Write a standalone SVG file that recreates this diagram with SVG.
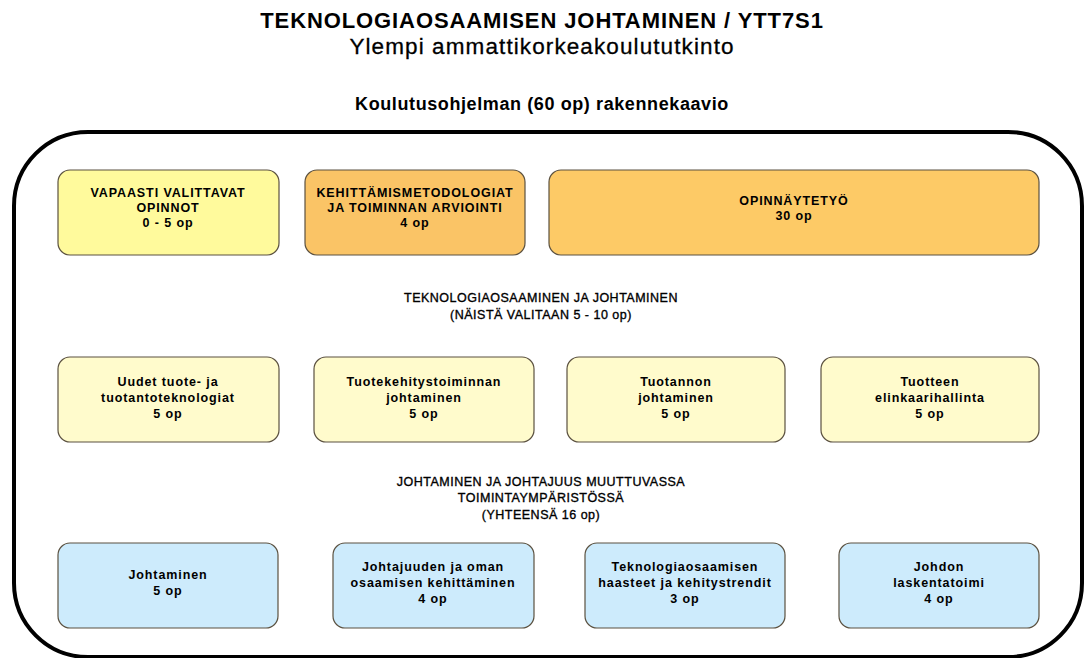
<svg xmlns="http://www.w3.org/2000/svg" width="1084" height="658" viewBox="0 0 1084 658">
<style>
text{font-family:"Liberation Sans",Arial,sans-serif;fill:#000;text-anchor:middle}
.t1{font-size:22px;font-weight:bold;letter-spacing:0.9px}
.t2{font-size:22.5px;letter-spacing:1.1px;stroke:#000;stroke-width:0.3px}
.t3{font-size:18px;font-weight:bold;letter-spacing:0.6px}
.sec{font-size:12.5px;letter-spacing:0.5px;stroke:#000;stroke-width:0.35px}
.bx{font-size:12.5px;font-weight:bold;letter-spacing:0.9px}
.box{stroke:#5b5140;stroke-width:1.2}
.y1{fill:#FFFA9C}
.or{fill:#FAC466}
.or2{fill:#FDCA66}
.ly{fill:#FFFBCC}
.bl{fill:#CDEBFC}
</style>
<rect width="1084" height="658" fill="#fff"/>
<g id="titles">
<text class="t1" x="542" y="28">TEKNOLOGIAOSAAMISEN JOHTAMINEN / YTT7S1</text>
<text class="t2" x="542" y="54">Ylempi ammattikorkeakoulututkinto</text>
<text class="t3" x="542" y="110">Koulutusohjelman (60 op) rakennekaavio</text>
</g>
<g id="container">
<rect x="14" y="132" width="1068" height="525" rx="74" ry="74" fill="none" stroke="#000" stroke-width="4"/>
</g>
<g id="sec1">
<text class="sec" x="541" y="302">TEKNOLOGIAOSAAMINEN JA JOHTAMINEN</text>
<text class="sec" x="541" y="319">(NÄISTÄ VALITAAN 5 - 10 op)</text>
</g>
<g id="sec2">
<text class="sec" x="541" y="486">JOHTAMINEN JA JOHTAJUUS MUUTTUVASSA</text>
<text class="sec" x="541" y="502">TOIMINTAYMPÄRISTÖSSÄ</text>
<text class="sec" x="541" y="519">(YHTEENSÄ 16 op)</text>
</g>
<g id="n1"><rect class="box y1" x="58" y="170" width="221" height="85" rx="12"/>
<text class="bx" x="168" y="197">VAPAASTI VALITTAVAT</text><text class="bx" x="168" y="212">OPINNOT</text><text class="bx" x="168" y="227">0 - 5 op</text></g>
<g id="n2"><rect class="box or" x="305" y="170" width="220" height="85" rx="12"/>
<text class="bx" x="415" y="197">KEHITTÄMISMETODOLOGIAT</text><text class="bx" x="415" y="212">JA TOIMINNAN ARVIOINTI</text><text class="bx" x="415" y="227">4 op</text></g>
<g id="n3"><rect class="box or2" x="549" y="170" width="490" height="85" rx="12"/>
<text class="bx" x="794" y="205">OPINNÄYTETYÖ</text><text class="bx" x="794" y="220">30 op</text></g>
<g id="m1"><rect class="box ly" x="58" y="357" width="221" height="85" rx="12"/>
<text class="bx" x="168" y="386">Uudet tuote- ja</text><text class="bx" x="168" y="402">tuotantoteknologiat</text><text class="bx" x="168" y="418">5 op</text></g>
<g id="m2"><rect class="box ly" x="314" y="357" width="220" height="85" rx="12"/>
<text class="bx" x="424" y="386">Tuotekehitystoiminnan</text><text class="bx" x="424" y="402">johtaminen</text><text class="bx" x="424" y="418">5 op</text></g>
<g id="m3"><rect class="box ly" x="567" y="357" width="218" height="85" rx="12"/>
<text class="bx" x="676" y="386">Tuotannon</text><text class="bx" x="676" y="402">johtaminen</text><text class="bx" x="676" y="418">5 op</text></g>
<g id="m4"><rect class="box ly" x="821" y="357" width="218" height="85" rx="12"/>
<text class="bx" x="930" y="386">Tuotteen</text><text class="bx" x="930" y="402">elinkaarihallinta</text><text class="bx" x="930" y="418">5 op</text></g>
<g id="b1"><rect class="box bl" x="58" y="543" width="220" height="85" rx="12"/>
<text class="bx" x="168" y="579">Johtaminen</text><text class="bx" x="168" y="595">5 op</text></g>
<g id="b2"><rect class="box bl" x="333" y="543" width="201" height="85" rx="12"/>
<text class="bx" x="433" y="571">Johtajuuden ja oman</text><text class="bx" x="433" y="587">osaamisen kehittäminen</text><text class="bx" x="433" y="603">4 op</text></g>
<g id="b3"><rect class="box bl" x="585" y="543" width="200" height="85" rx="12"/>
<text class="bx" x="685" y="571">Teknologiaosaamisen</text><text class="bx" x="685" y="587">haasteet ja kehitystrendit</text><text class="bx" x="685" y="603">3 op</text></g>
<g id="b4"><rect class="box bl" x="839" y="543" width="200" height="85" rx="12"/>
<text class="bx" x="939" y="571">Johdon</text><text class="bx" x="939" y="587">laskentatoimi</text><text class="bx" x="939" y="603">4 op</text></g>
<g id="connectors"></g>
</svg>
